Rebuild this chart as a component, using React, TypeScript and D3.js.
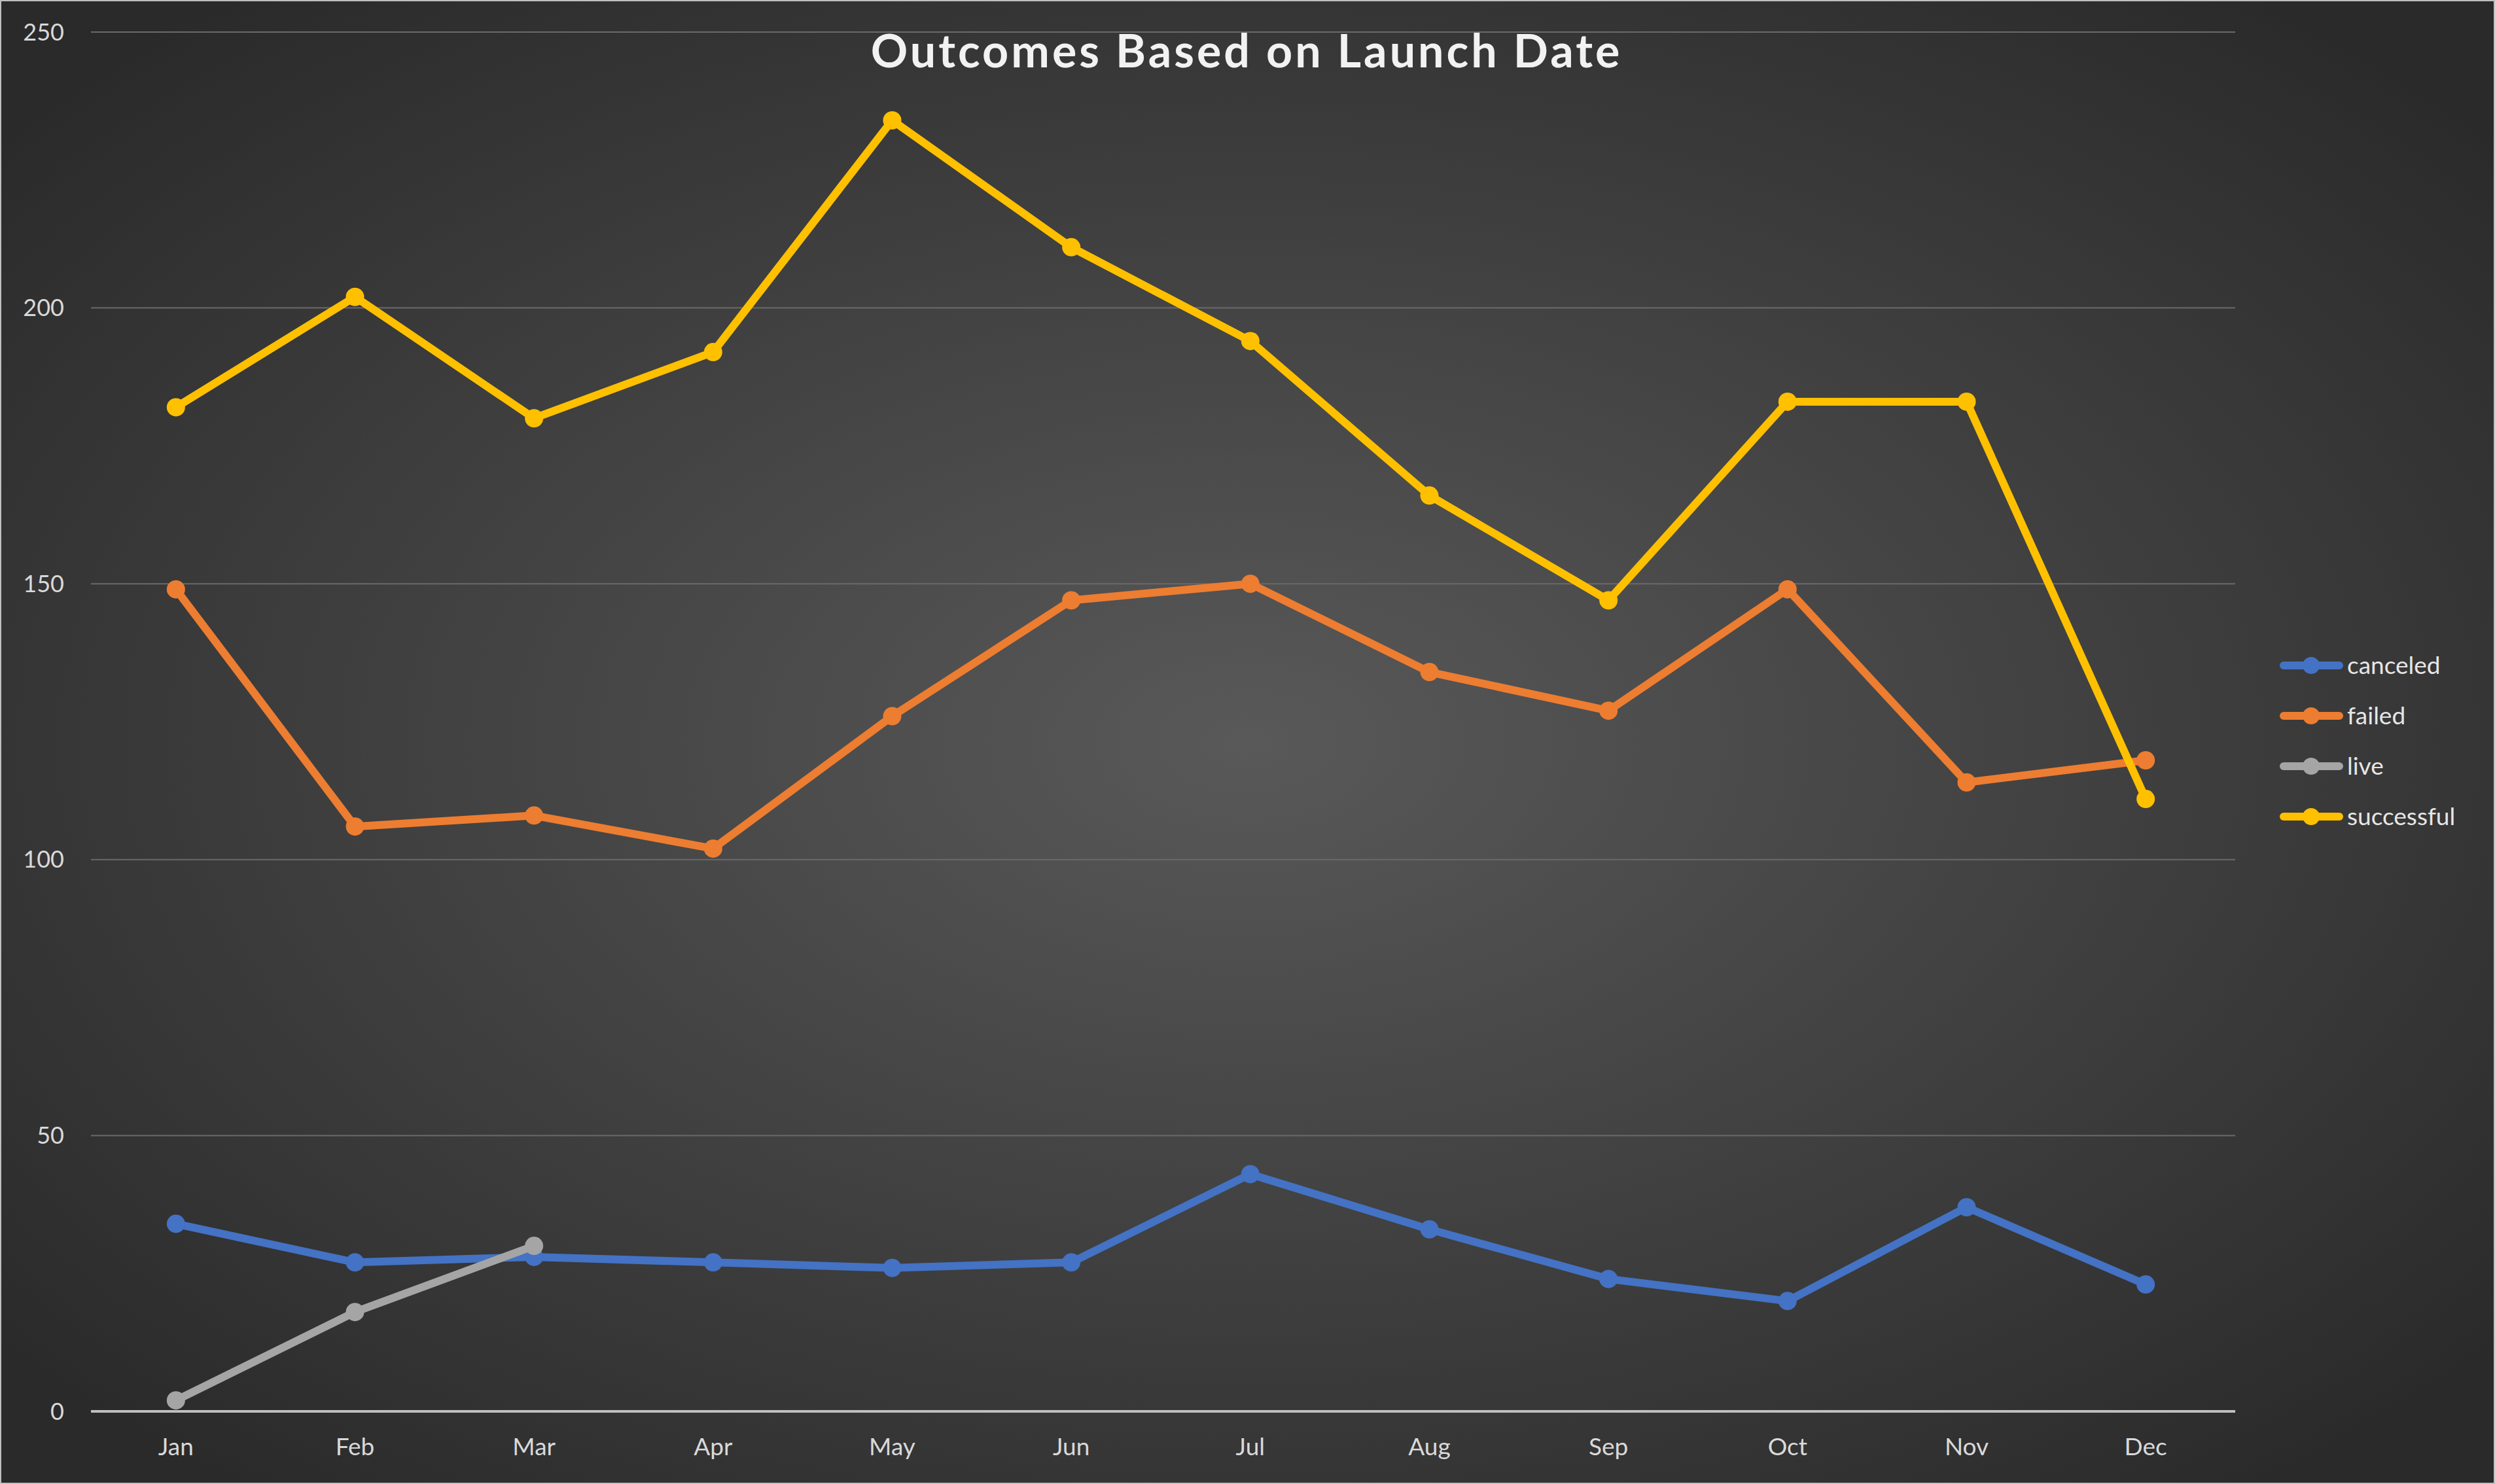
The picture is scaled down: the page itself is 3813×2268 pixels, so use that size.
import { line, scaleBand, scaleLinear } from "d3";
import { useEffect } from "react";

const W = 3813;
const H = 2268;
const M = { top: 49, right: 397, bottom: 111, left: 132 };

const months = ["Jan", "Feb", "Mar", "Apr", "May", "Jun", "Jul", "Aug", "Sep", "Oct", "Nov", "Dec"];
const canceled = [34, 27, 28, 27, 26, 27, 43, 33, 24, 20, 37, 23];
const failed = [149, 106, 108, 102, 126, 147, 150, 134, 127, 149, 114, 118];
const live = [2, 18, 30];
const successful = [182, 202, 180, 192, 234, 211, 194, 166, 147, 183, 183, 111];
const yTicks = [0, 50, 100, 150, 200, 250];

const series = [
  { name: "canceled", color: "#4472c4", values: canceled },
  { name: "failed", color: "#ed7d31", values: failed },
  { name: "live", color: "#a5a5a5", values: live },
  { name: "successful", color: "#ffc000", values: successful },
];

const FONT = "Lato, 'Open Sans', sans-serif";

export default function App() {
  useEffect(() => {
    document.body.style.margin = "0";
  }, []);

  const x = scaleBand<string>().domain(months).range([M.left, W - M.right]);
  const y = scaleLinear().domain([0, 250]).range([H - M.bottom, M.top]);
  const cx = (i: number) => (x(months[i]) ?? 0) + x.bandwidth() / 2;
  const mk = line<number>()
    .x((_, i) => cx(i))
    .y((v) => y(v));

  return (
    <svg width={W} height={H} style={{ display: "block" }}>
      <defs>
        <radialGradient id="bg" cx="50%" cy="50%" r="65%">
          <stop offset="0%" stopColor="#595959" />
          <stop offset="100%" stopColor="#2a2a2a" />
        </radialGradient>
      </defs>
      <rect x={1} y={1} width={W - 2} height={H - 2} fill="url(#bg)" stroke="#bfbfbf" strokeWidth={2} />
      {yTicks.map((t) => (
        <g key={t}>
          <line
            x1={139}
            x2={W - M.right}
            y1={y(t)}
            y2={y(t)}
            stroke={t === 0 ? "#bfbfbf" : "#6a6a6a"}
            strokeWidth={t === 0 ? 4 : 2}
          />
          <text x={98} y={y(t)} dy="0.35em" textAnchor="end" fill="#d9d9d9" fontSize={36} fontFamily={FONT}>
            {t}
          </text>
        </g>
      ))}
      {months.map((m, i) => (
        <text key={m} x={cx(i)} y={2224} textAnchor="middle" fill="#d9d9d9" fontSize={37} fontFamily={FONT}>
          {m}
        </text>
      ))}
      <text x={1905} y={103} textAnchor="middle" fill="#f2f2f2" fontSize={70} fontWeight="bold" fontFamily={FONT} letterSpacing={4}>
        Outcomes Based on Launch Date
      </text>
      {series.map((s) => (
        <g key={s.name}>
          <path d={mk(s.values) ?? ""} fill="none" stroke={s.color} strokeWidth={12} strokeLinejoin="round" strokeLinecap="round" />
          {s.values.map((v, i) => (
            <circle key={i} cx={cx(i)} cy={y(v)} r={14} fill={s.color} />
          ))}
        </g>
      ))}
      {series.map((s, i) => {
        const ly = 1017 + i * 77;
        return (
          <g key={s.name}>
            <line x1={3490} x2={3575} y1={ly} y2={ly} stroke={s.color} strokeWidth={12} strokeLinecap="round" />
            <circle cx={3532} cy={ly} r={13} fill={s.color} />
            <text x={3587} y={ly} dy="0.35em" fill="#e6e6e6" fontSize={37} fontFamily={FONT}>
              {s.name}
            </text>
          </g>
        );
      })}
    </svg>
  );
}
